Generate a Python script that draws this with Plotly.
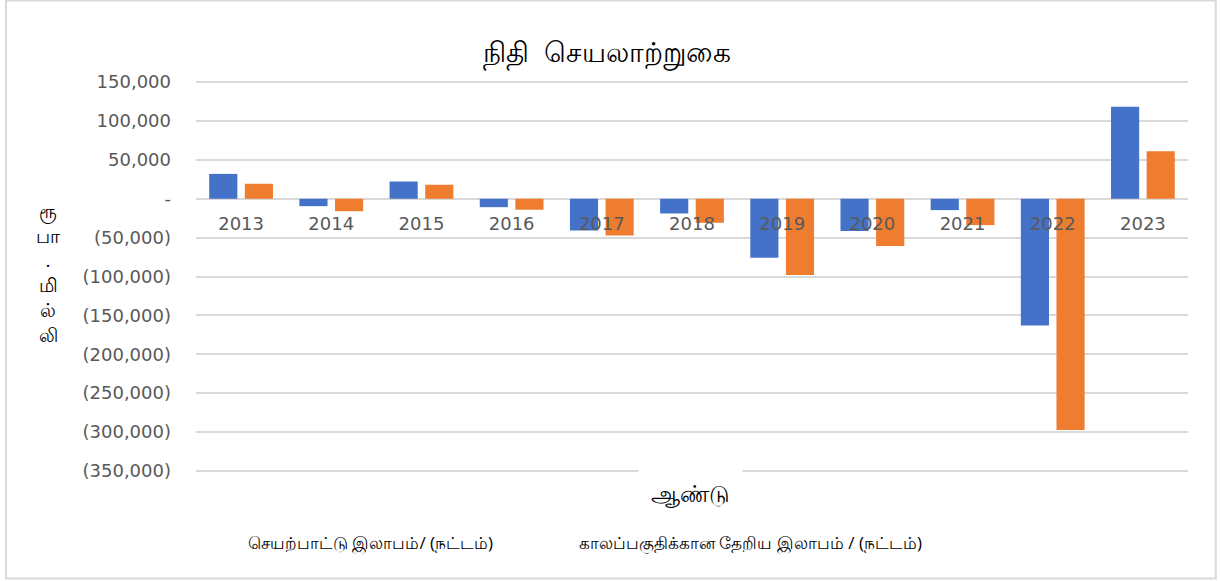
import plotly.graph_objects as go

# data (Rs. million)
years = ["2013", "2014", "2015", "2016", "2017", "2018", "2019", "2020", "2021", "2022", "2023"]
operating_profit = [32000, -9500, 22200, -10800, -40700, -18900, -75800, -41600, -14600, -162900, 118300]
net_profit = [19300, -16000, 18000, -14100, -47200, -30900, -98200, -60900, -33900, -297500, 61200]

series_names = ["செயற்பாட்டு இலாபம்/ (நட்டம்)", "காலப்பகுதிக்கான தேறிய இலாபம் / (நட்டம்)"]
tick_vals = [150000, 100000, 50000, 0, -50000, -100000, -150000, -200000, -250000, -300000, -350000]
tick_text = ["150,000", "100,000", "50,000", "-", "(50,000)", "(100,000)", "(150,000)",
             "(200,000)", "(250,000)", "(300,000)", "(350,000)"]

title = "நிதி  செயலாற்றுகை"
x_title = "ஆண்டு"
y_title = ["ரூ", "பா", ".", "மி", "ல்", "லி"]

COLORS = ["#4472C8", "#EF7D2F"]
GRID = "#d9d9d9"
TICK_FONT = dict(family="DejaVu Sans", size=18, color="#595959")

# small padding so the first and last gridlines are still drawn
pad = 1500
y_lo, y_hi = min(tick_vals) - pad, max(tick_vals) + pad
zero_pos = (0 - y_lo) / (y_hi - y_lo)

fig = go.Figure()
for i, vals in enumerate([operating_profit, net_profit]):
    fig.add_trace(go.Bar(
        x=years,
        y=vals,
        name=series_names[i],
        marker=dict(color=COLORS[i], line=dict(width=0)),
    ))

fig.update_layout(
    width=1220,
    height=581,
    margin=dict(l=196, r=32, t=81, b=109),
    paper_bgcolor="white",
    plot_bgcolor="white",
    barmode="group",
    bargap=0.21,
    bargroupgap=0.21,
    showlegend=False,
    title=dict(
        text=title,
        xref="container", x=0.4975, xanchor="center",
        yref="container", y=0.91, yanchor="middle",
        font=dict(size=28, color="black"),
    ),
    xaxis=dict(
        anchor="free",
        position=zero_pos,
        showgrid=False,
        showline=False,
        zeroline=False,
        ticks="",
        ticklabelstandoff=12,
        tickfont=TICK_FONT,
    ),
    yaxis=dict(
        range=[y_lo, y_hi],
        tickvals=tick_vals,
        ticktext=tick_text,
        showgrid=True,
        gridcolor=GRID,
        gridwidth=1.5,
        zeroline=True,
        zerolinecolor=GRID,
        zerolinewidth=1.5,
        showline=False,
        ticks="",
        ticklabelstandoff=24,
        tickfont=TICK_FONT,
    ),
)

# vertical y-axis title, one syllable per line
fig.add_annotation(
    text="<br>".join(y_title),
    xref="paper", yref="paper", x=-0.149, y=0.509,
    xanchor="center", yanchor="middle",
    showarrow=False, font=dict(size=19, color="black"),
    align="center",
)

# x-axis title with a white box over the bottom gridline
fig.add_annotation(
    text=x_title,
    xref="paper", yref="paper", x=0.498, y=-0.054,
    xanchor="center", yanchor="middle",
    showarrow=False, font=dict(size=23, color="black"),
    bgcolor="white", borderpad=12,
)

# legend drawn as plain text, as in the source chart
for name, xpos in zip(series_names, [0.1764, 0.5585]):
    fig.add_annotation(
        text=name,
        xref="paper", yref="paper", x=xpos, y=-0.18,
        xanchor="center", yanchor="middle",
        showarrow=False, font=dict(size=17, color="black"),
    )

# chart frame
fig.add_shape(
    type="rect", xref="paper", yref="paper",
    x0=-0.1915, x1=1.028, y0=-0.2725, y1=1.2057,
    line=dict(color=GRID, width=2),
)

fig.write_html("out.html", config={"displayModeBar": False},
               post_script="document.body.style.margin='0';")
